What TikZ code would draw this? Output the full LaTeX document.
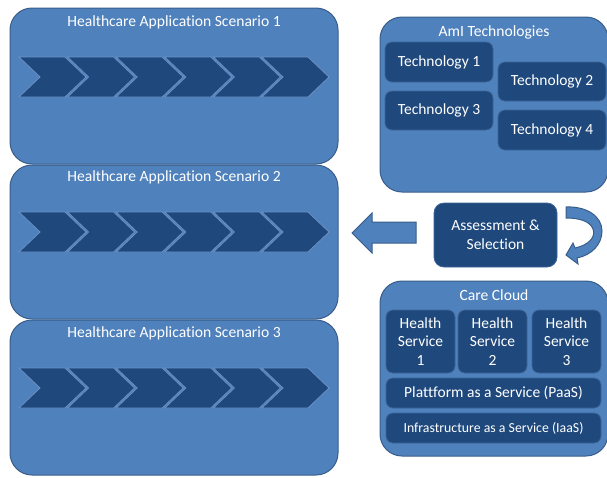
\documentclass[tikz,border=0pt]{standalone}
\usepackage{fontspec}
\setmainfont{Carlito}[Ligatures=NoCommon]
\usetikzlibrary{positioning}

\definecolor{boxblue}{HTML}{4F81BD}
\definecolor{boxline}{HTML}{385D8A}
\definecolor{darkblue}{HTML}{1F497D}
\definecolor{darkline}{HTML}{3D6597}
\definecolor{chevline}{HTML}{6A90C4}

\begin{document}
\begin{tikzpicture}[x=1pt, y=-1pt,
    bigbox/.style={draw=boxline, fill=boxblue, line width=1pt, rounded corners=22pt, inner sep=0pt},
    smallbox/.style={draw=darkline, fill=darkblue, line width=0.8pt, rounded corners=7pt, text=white, align=center, inner sep=0pt, font=\fontsize{15.5}{18.5}\selectfont},
    boxtitle/.style={text=white, inner sep=0pt, font=\fontsize{15.6}{18}\selectfont},
    chev/.style={fill=darkblue, draw=chevline, line width=0.8pt},
    blockarrow/.style={fill=boxblue, draw=boxline, line width=1pt}]

            \useasboundingbox (0,0) rectangle (607,477);

            % Scenario boxes
            \node[bigbox, minimum width=328pt, minimum height=156pt] (sc1) at (174,86) {};
            \node[bigbox, minimum width=328pt, minimum height=154pt] (sc2) at (174,242) {};
            \node[bigbox, minimum width=328pt, minimum height=155pt] (sc3) at (174,397.5) {};
            \node[boxtitle] (sc1title) at (174,22) {Healthcare Application Scenario 1};
            \node[boxtitle] (sc2title) at (174,177) {Healthcare Application Scenario 2};
            \node[boxtitle] (sc3title) at (174,333) {Healthcare Application Scenario 3};

            % Process chevrons
            \foreach \y in {77,232,388}
              \foreach \i in {0,...,5}
                \draw[chev] ({19+48.6*\i},\y-20) -- ++(46,0) -- ++(21,20) -- ++(-21,20)
                  -- ++(-46,0) -- ++(21,-20) -- cycle;

            % AmI technologies
            \node[bigbox, minimum width=228pt, minimum height=175pt] (ami) at (494,104.5) {};
            \node[boxtitle] (amititle) at (494,32) {AmI Technologies};
            \node[smallbox, minimum width=108pt, minimum height=40pt] (tech1) at (439,62) {Technology 1};
            \node[smallbox, minimum width=108pt, minimum height=39pt] (tech3) at (439,110.5) {Technology 3};
            \node[smallbox, minimum width=108pt, minimum height=39pt] (tech2) at (552,81.5) {Technology 2};
            \node[smallbox, minimum width=108pt, minimum height=40pt] (tech4) at (552,130) {Technology 4};

            % Assessment
            \node[smallbox, rounded corners=10pt, minimum width=123pt, minimum height=64pt] (select) at (495.5,235) {Assessment \&\\Selection};

            % Care cloud
            \node[bigbox, minimum width=228pt, minimum height=175pt] (cloud) at (494,368.5) {};
            \node[boxtitle] (cloudtitle) at (494,295) {Care Cloud};
            \node[smallbox, minimum width=69pt, minimum height=63pt] (hs1) at (420.5,341.5) {Health\\Service\\1};
            \node[smallbox, minimum width=69pt, minimum height=63pt] (hs2) at (492.5,341.5) {Health\\Service\\2};
            \node[smallbox, minimum width=69pt, minimum height=63pt] (hs3) at (566.5,341.5) {Health\\Service\\3};
            \node[smallbox, minimum width=215pt, minimum height=30pt] (paas) at (493.5,393) {Plattform as a Service (PaaS)};
            \node[smallbox, minimum width=215pt, minimum height=30pt, font=\fontsize{13.8}{16}\selectfont] (iaas) at (493.5,428) {Infrastructure as a Service (IaaS)};

            % Arrow to the scenarios
            \draw[blockarrow] (416,222) -- (372,222) -- (372,213) -- (352,233) -- (372,253)
              -- (372,243) -- (416,243) -- cycle;

            % Loop arrow on the assessment
            \draw[blockarrow] (566,207) .. controls (586,206) and (602,216) .. (602,231)
              .. controls (602,244) and (592,255) .. (577,258)
              -- (578,264) -- (566,255) -- (573,243) -- (575,248)
              .. controls (589,245) and (596,237) .. (593,229)
              .. controls (590,221) and (579,218) .. (566,218) -- cycle;
            \end{tikzpicture}
\end{document}
